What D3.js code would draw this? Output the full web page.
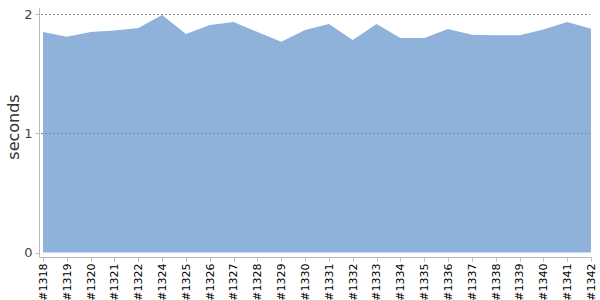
<!DOCTYPE html>
<html lang="en">
<head>
<meta charset="UTF-8">
<title>Build durations</title>
<script src="https://d3js.org/d3.v7.min.js"></script>
<style>
    body { margin: 0; background: #fff; }
    text { font-family: "DejaVu Sans", sans-serif; }
    .grid line { stroke: #888; stroke-dasharray: 2,2; }
</style>
</head>
<body>
<svg id="chart" width="600" height="300"></svg>
<script>
// build numbers and their durations (seconds)
const builds = ["#1318", "#1319", "#1320", "#1321", "#1322", "#1324", "#1325", "#1326",
    "#1327", "#1328", "#1329", "#1330", "#1331", "#1332", "#1333", "#1334", "#1335",
    "#1336", "#1337", "#1338", "#1339", "#1340", "#1341", "#1342"];
const durations = [1.849, 1.809, 1.849, 1.861, 1.882, 1.992, 1.832, 1.908,
    1.933, 1.849, 1.767, 1.866, 1.916, 1.782, 1.916, 1.798, 1.798,
    1.874, 1.826, 1.821, 1.821, 1.871, 1.933, 1.876];
const yTicks = [0, 1, 2];

const svg = d3.select("#chart");
const plotLeft = 43, plotRight = 591, plotTop = 14, plotBottom = 252.5;

const x = d3.scalePoint().domain(builds).range([plotLeft, plotRight]);
const y = d3.scaleLinear().domain([0, 2]).range([plotBottom, plotTop]);

const data = builds.map((b, i) => ({ b, v: durations[i] }));

// area
const area = d3.area()
    .x(d => x(d.b))
    .y0(y(0))
    .y1(d => y(d.v));
svg.append("path")
    .datum(data)
    .attr("d", area)
    .attr("fill", "#8fb2db");

// dashed grid lines
svg.append("g").attr("class", "grid")
    .selectAll("line")
    .data(yTicks.filter(t => t > 0))
    .join("line")
    .attr("x1", 37).attr("x2", 590)
    .attr("y1", d => Math.round(y(d)) + 0.5)
    .attr("y2", d => Math.round(y(d)) + 0.5);

// y axis
const yAxis = svg.append("g").attr("transform", "translate(39.5,0)");
yAxis.append("line")
    .attr("y1", 8).attr("y2", 257)
    .attr("stroke", "#bbb");
yAxis.selectAll("line.tick")
    .data(yTicks)
    .join("line")
    .attr("class", "tick")
    .attr("x1", -4).attr("x2", 0)
    .attr("y1", d => Math.round(y(d)) + 0.5)
    .attr("y2", d => Math.round(y(d)) + 0.5)
    .attr("stroke", "#bbb");
yAxis.selectAll("text")
    .data(yTicks)
    .join("text")
    .attr("x", -7)
    .attr("y", d => y(d))
    .attr("dy", "0.35em")
    .attr("text-anchor", "end")
    .attr("font-size", 13)
    .attr("fill", "#444")
    .text(d => d);

// x axis
const xAxis = svg.append("g").attr("transform", "translate(0,257.5)");
xAxis.append("line")
    .attr("x1", 39.5).attr("x2", plotRight + 0.5)
    .attr("stroke", "#bbb");
xAxis.selectAll("line.tick")
    .data(builds)
    .join("line")
    .attr("class", "tick")
    .attr("x1", d => Math.round(x(d)) + 0.5)
    .attr("x2", d => Math.round(x(d)) + 0.5)
    .attr("y1", 0).attr("y2", 4)
    .attr("stroke", "#bbb");
xAxis.selectAll("text")
    .data(builds)
    .join("text")
    .attr("transform", d => `translate(${x(d)},6) rotate(-90)`)
    .attr("dy", "0.35em")
    .attr("text-anchor", "end")
    .attr("font-size", 11)
    .attr("fill", "#000")
    .text(d => d);

// y label
svg.append("text")
    .attr("transform", "translate(13,127) rotate(-90)")
    .attr("dy", "0.35em")
    .attr("text-anchor", "middle")
    .attr("font-size", 16)
    .attr("fill", "#333")
    .text("seconds");
</script>
</body>
</html>
